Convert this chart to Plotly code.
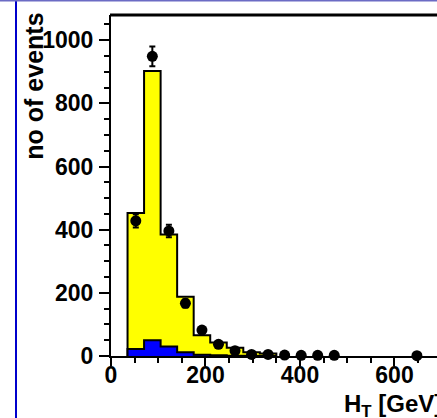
import plotly.graph_objects as go

# H_T distribution: stacked simulation (yellow total, blue component) and data points
bin_edges = [35, 70, 105, 140, 175, 210, 245, 280, 315, 350]
mc_total = [453, 903, 385, 188, 66, 43, 26, 12, 8]
mc_blue = [22, 50, 30, 12, 4, 2, 1, 1, 0]

data_x = [52.5, 87.5, 122.5, 157.5, 192.5, 227.5, 262.5, 297.5, 332.5,
          367.5, 402.5, 437.5, 472.5, 647.5]
data_y = [428, 949, 396, 167, 82, 37, 17, 5, 5, 3, 2, 2, 2, 1]
data_err = [21, 31, 20, 13, 9, 6, 4, 2, 2, 2, 1, 1, 1, 1]

x_ticks = [0, 200, 400, 600]
y_ticks = [0, 200, 400, 600, 800, 1000]

FONT = dict(family="Liberation Sans, Arial, sans-serif", color="black", weight="bold")


def step_outline(edges, heights):
    """Closed outline of a histogram (for a filled step shape)."""
    xs, ys = [edges[0]], [0]
    for i, h in enumerate(heights):
        xs += [edges[i], edges[i + 1]]
        ys += [h, h]
    xs.append(edges[len(heights)])
    ys.append(0)
    return xs, ys


fig = go.Figure()

bx, by = step_outline(bin_edges, mc_total)
fig.add_trace(go.Scatter(x=bx, y=by, mode="lines", fill="toself",
                         fillcolor="#ffff00", line=dict(color="black", width=2),
                         hoverinfo="skip", showlegend=False))

sx, sy = step_outline(bin_edges, mc_blue)
fig.add_trace(go.Scatter(x=sx, y=sy, mode="lines", fill="toself",
                         fillcolor="#0000ff", line=dict(color="black", width=2),
                         hoverinfo="skip", showlegend=False))

fig.add_trace(go.Scatter(x=data_x, y=data_y, mode="markers",
                         marker=dict(color="black", size=11),
                         error_y=dict(type="data", array=data_err, color="black",
                                      thickness=2, width=3),
                         cliponaxis=False, hoverinfo="skip", showlegend=False))

fig.update_layout(
    width=437, height=418,
    margin=dict(l=111, r=0, t=15, b=62),
    paper_bgcolor="white", plot_bgcolor="white",
    showlegend=False,
    xaxis=dict(range=[0, 690], tickvals=x_ticks, ticks="outside", ticklen=8,
               tickwidth=2, tickcolor="black", showline=True, linewidth=2,
               linecolor="black", mirror=False, showgrid=False, zeroline=False,
               tickfont=dict(size=23, **FONT), ticklabelstandoff=-11,
               minor=dict(dtick=50, tick0=0, ticks="outside", ticklen=5,
                          tickwidth=2, tickcolor="black", showgrid=False)),
    yaxis=dict(range=[0, 1080], tickvals=y_ticks, ticks="outside", ticklen=10,
               tickwidth=2, tickcolor="black", showline=True, linewidth=2,
               linecolor="black", mirror=False, showgrid=False, zeroline=False,
               tickfont=dict(size=23, **FONT), ticklabelstandoff=1,
               minor=dict(dtick=50, tick0=0, ticks="outside", ticklen=5,
                          tickwidth=2, tickcolor="black", showgrid=False)),
)

# frame top edge
fig.add_shape(type="line", xref="paper", yref="paper", x0=-0.003, x1=1.05,
              y0=1, y1=1, line=dict(color="black", width=3))
# slide border lines
fig.add_shape(type="line", xref="paper", yref="paper", x0=-0.2914, x1=-0.2914,
              y0=-0.25, y1=1.1, line=dict(color="#0000cc", width=2))
fig.add_shape(type="line", xref="paper", yref="paper", x0=-0.4, x1=1.1,
              y0=1.0425, y1=1.0425, line=dict(color="#6b6bc4", width=2))

fig.add_annotation(text="no of events", xref="paper", yref="paper",
                   x=-0.236, y=0.79, xanchor="center", yanchor="middle",
                   textangle=-90, showarrow=False, font=dict(size=25, **FONT))
fig.add_annotation(text="H<sub>T</sub> [GeV]", xref="paper", yref="paper",
                   x=0.7086, y=-0.094, xanchor="left", yanchor="top",
                   showarrow=False, font=dict(size=24, **FONT))

fig.write_html("out.html")
